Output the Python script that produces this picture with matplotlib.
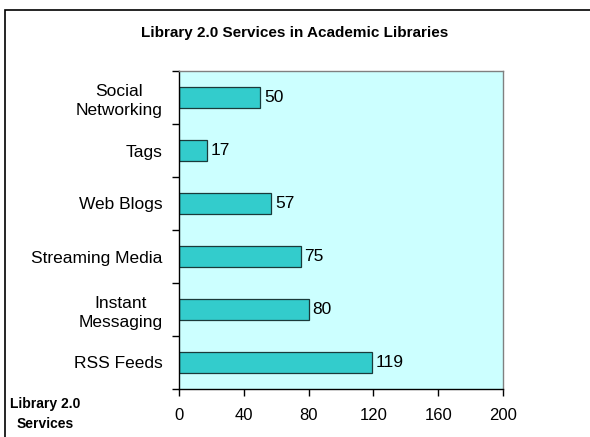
import matplotlib.pyplot as plt
from matplotlib.patches import Rectangle

plt.rcParams['font.family'] = ['Liberation Sans', 'DejaVu Sans']

services = ['Social\nNetworking', 'Tags', 'Web Blogs', 'Streaming Media',
            'Instant\nMessaging', 'RSS Feeds']
counts = [50, 17, 57, 75, 80, 119]
x_ticks = [0, 40, 80, 120, 160, 200]

fig = plt.figure(figsize=(5.9, 4.37), dpi=100)
fig.patch.set_facecolor('white')

# outer chart frame (runs off the right and bottom edges)
fig.patches.append(Rectangle((5 / 590, -0.05), 1.0, 1 - 10 / 437 + 0.05,
                             transform=fig.transFigure, fill=False,
                             edgecolor='black', linewidth=1.2))

ax = fig.add_axes([179 / 590, 48 / 437, 324 / 590, 318 / 437])
ax.set_facecolor('#CCFFFF')

pos = list(range(len(services)))[::-1]
ax.barh(pos, counts, height=0.4, color='#33CCCC', edgecolor='#1a3a3a',
        linewidth=0.9)
for p, v in zip(pos, counts):
    ax.text(v + 2.5, p, str(v), va='center', ha='left', fontsize=12.5)

ax.set_xlim(0, 200)
ax.set_ylim(-0.5, len(services) - 0.5)
ax.set_xticks(x_ticks)
ax.tick_params(axis='x', length=5, width=1, labelsize=12, pad=9)

# category ticks sit between the bars, labels at the bar centres
ax.set_yticks([i - 0.5 for i in range(len(services) + 1)])
ax.set_yticklabels([])
ax.set_yticks(pos, minor=True)
ax.set_yticklabels(services, minor=True, fontsize=12.5, multialignment='center',
                   linespacing=1.3)
ax.tick_params(axis='y', which='major', length=5, width=1)
ax.tick_params(axis='y', which='minor', length=0, pad=12)

ax.spines['left'].set_color('black')
ax.spines['bottom'].set_color('black')
ax.spines['top'].set_color('#808080')
ax.spines['right'].set_color('#808080')
for s in ax.spines.values():
    s.set_linewidth(1)

fig.text(0.5, 1 - 33 / 437, 'Library 2.0 Services in Academic Libraries',
         ha='center', va='center', fontsize=11, fontweight='bold')
fig.text(45 / 590, 1 - 414 / 437, 'Library 2.0\nServices', ha='center',
         va='center', fontsize=10, fontweight='bold', linespacing=1.5)

fig.savefig('out.png', dpi=100)
